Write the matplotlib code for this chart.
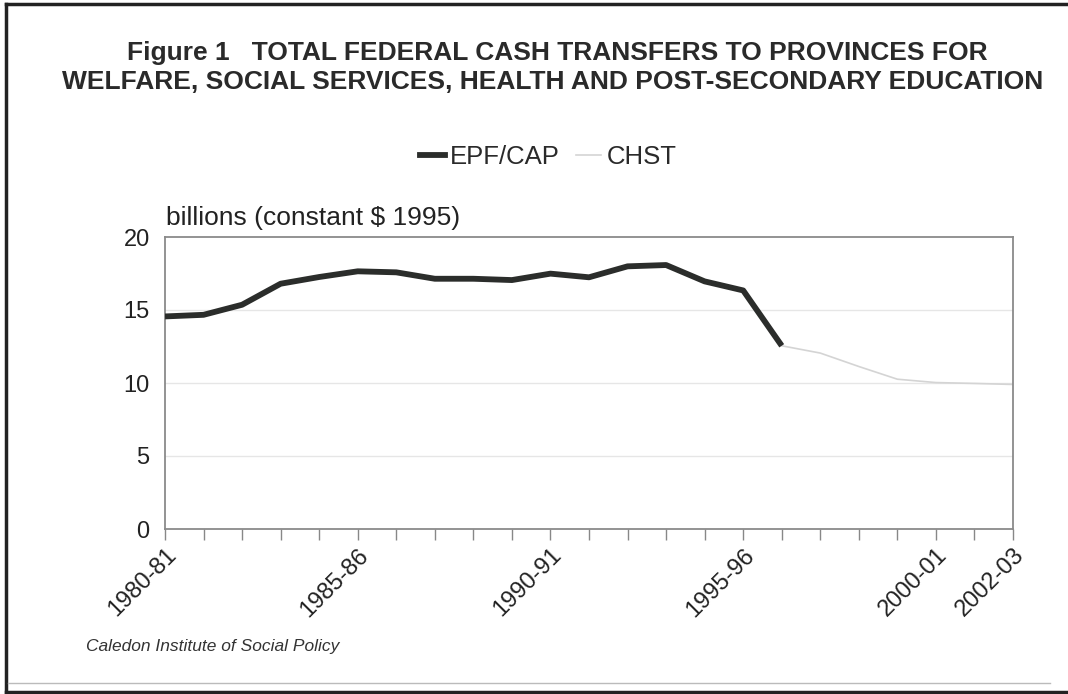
import matplotlib
matplotlib.use("Agg")
import matplotlib.pyplot as plt
import matplotlib.transforms as mtransforms
from matplotlib.lines import Line2D

years = ["1980-81","1981-82","1982-83","1983-84","1984-85","1985-86","1986-87",
         "1987-88","1988-89","1989-90","1990-91","1991-92","1992-93","1993-94",
         "1994-95","1995-96","1996-97","1997-98","1998-99","1999-00","2000-01",
         "2001-02","2002-03"]
epf_cap = [14.56, 14.67, 15.36, 16.8, 17.26, 17.65, 17.58, 17.14, 17.14, 17.05,
           17.49, 17.24, 17.99, 18.08, 16.96, 16.34, 12.55]
chst = [12.55, 12.05, 11.13, 10.26, 10.03, 9.97, 9.9]
label_years = ["1980-81", "1985-86", "1990-91", "1995-96", "2000-01", "2002-03"]

plt.rcParams['font.family'] = ['Liberation Sans', 'DejaVu Sans']

fig = plt.figure(figsize=(10.68, 6.94), dpi=100)
W, H = 1068, 694
ax = fig.add_axes([165 / W, 1 - 529 / H, (1013 - 165) / W, (529 - 237) / H])

x_all = list(range(len(years)))
ax.plot(x_all[:len(epf_cap)], epf_cap, color="#2b2d2b", lw=4.2,
        solid_joinstyle="round", solid_capstyle="butt", zorder=3)
start = len(epf_cap) - 1
ax.plot(x_all[start:start + len(chst)], chst, color="#d4d4d4", lw=1.2, zorder=2)

ax.set_xlim(0, len(years) - 1)
ax.set_ylim(0, 20)
ax.set_yticks([0, 5, 10, 15, 20])
ax.set_xticks(x_all, minor=False)
ax.set_xticklabels([y if y in label_years else "" for y in years],
                   rotation=45, ha="right", rotation_mode="anchor", fontsize=17,
                   color="#222222")
offset = mtransforms.ScaledTranslation(-8 / 100, -5 / 100, fig.dpi_scale_trans)
for lbl in ax.get_xticklabels():
    lbl.set_transform(lbl.get_transform() + offset)
ax.tick_params(axis="x", length=8, width=1, color="#888888", pad=3, direction="out")
ax.tick_params(axis="y", length=0, pad=11, labelsize=17, labelcolor="#222222")
for y in [5, 10, 15]:
    ax.axhline(y, color="#e6e6e6", lw=1, zorder=1)
for s in ax.spines.values():
    s.set_color("#8a8a8a")
    s.set_linewidth(1.3)

fig.text(166 / W, 1 - 218 / H, "billions (constant $ 1995)", fontsize=19,
         color="#222222", va="center", ha="left")

fig.text(557 / W, 1 - 53 / H,
         "Figure 1   TOTAL FEDERAL CASH TRANSFERS TO PROVINCES FOR",
         fontsize=19, fontweight="bold", color="#2a2a2a", ha="center", va="center")
fig.text(62 / W, 1 - 82 / H,
         "WELFARE, SOCIAL SERVICES, HEALTH AND POST-SECONDARY EDUCATION",
         fontsize=19, fontweight="bold", color="#2a2a2a", ha="left", va="center")

handles = [Line2D([], [], color="#2b2d2b", lw=4.2),
           Line2D([], [], color="#d4d4d4", lw=1.2)]
fig.legend(handles, ["EPF/CAP", "CHST"], loc="center",
           bbox_to_anchor=(548 / W, 1 - 157 / H), ncol=2, frameon=False,
           fontsize=18.5, handlelength=1.0, handletextpad=0.2, columnspacing=0.6,
           labelcolor="#2a2a2a")

fig.text(86 / W, 1 - 647 / H, "Caledon Institute of Social Policy",
         fontsize=12.5, style="italic", color="#333333", va="center", ha="left")

# page borders
fig.add_artist(Line2D([6 / W, 6 / W], [1 - 4 / H, 1 - 692 / H], color="#222222", lw=2.5,
                      transform=fig.transFigure))
fig.add_artist(Line2D([6 / W, 1], [1 - 4 / H, 1 - 4 / H], color="#222222", lw=2.5,
                      transform=fig.transFigure))
fig.add_artist(Line2D([6 / W, 1], [1 - 692 / H, 1 - 692 / H], color="#222222", lw=2.5,
                      transform=fig.transFigure))
fig.add_artist(Line2D([8 / W, 1050 / W], [1 - 683 / H, 1 - 683 / H], color="#bbbbbb", lw=1,
                      transform=fig.transFigure))

fig.savefig("out.png", dpi=100)
